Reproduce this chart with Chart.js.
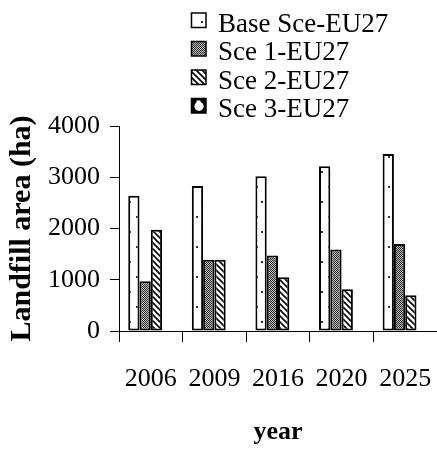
<!DOCTYPE html>
<html lang="en">
<head>
    <meta charset="UTF-8">
    <title>Landfill area</title>
    <script src="https://cdn.jsdelivr.net/npm/chart.js"></script>
    <style>
        html, body { margin: 0; padding: 0; background: #fff; }
        canvas { display: block; }
    </style>
</head>
<body>
    <canvas id="chart" width="437" height="450"></canvas>

    <script>
        // data
        const years = ['2006', '2009', '2016', '2020', '2025'];
        const baseSce = [2640, 2830, 3020, 3215, 3455];
        const sce1 = [970, 1390, 1475, 1590, 1700];
        const sce2 = [1975, 1390, 1050, 815, 700];
        const sce3 = [null, null, null, null, null];
        const seriesNames = ['Base Sce-EU27', 'Sce 1-EU27', 'Sce 2-EU27', 'Sce 3-EU27'];
        const yTicks = [0, 1000, 2000, 3000, 4000];

        // fill patterns like the old print figure
        function makePattern(w, h, draw) {
            const c = document.createElement('canvas');
            c.width = w;
            c.height = h;
            const g = c.getContext('2d');
            draw(g);
            return g.createPattern(c, 'repeat');
        }

        const dots = makePattern(12, 30, g => {
            g.fillStyle = '#fff';
            g.fillRect(0, 0, 12, 30);
            g.fillStyle = '#333';
            g.fillRect(4, 6, 2, 2);
            g.fillRect(9, 21, 2, 2);
        });

        const checker = makePattern(2, 2, g => {
            g.fillStyle = '#b8b8b8';
            g.fillRect(0, 0, 2, 2);
            g.fillStyle = '#333';
            g.fillRect(0, 0, 1, 1);
            g.fillRect(1, 1, 1, 1);
        });

        const stripes = makePattern(6, 6, g => {
            g.fillStyle = '#fff';
            g.fillRect(0, 0, 6, 6);
            g.strokeStyle = '#000';
            g.lineWidth = 1.6;
            g.beginPath();
            g.moveTo(-1, -1); g.lineTo(7, 7);
            g.moveTo(-4, 2); g.lineTo(4, 10);
            g.moveTo(2, -4); g.lineTo(10, 4);
            g.stroke();
        });

        const fills = [dots, checker, stripes, '#000'];

        // legend stacked in one column above the plot
        const columnLegend = {
            id: 'columnLegend',
            afterDraw(chart) {
                const ctx = chart.ctx;
                ctx.save();
                chart.data.datasets.forEach((ds, i) => {
                    const base = 31.5 + i * 28.5;
                    const bx = 191.5, by = base - 18.5, bs = 14.5;
                    if (i === 3) {
                        ctx.fillStyle = '#000';
                        ctx.fillRect(bx, by, bs, bs);
                        ctx.fillStyle = '#fff';
                        ctx.beginPath();
                        ctx.arc(bx + 7.5, by + 7.8, 4.6, 0, Math.PI * 2);
                        ctx.fill();
                        ctx.fillRect(bx + 5, by + 2, 4, 3);
                    } else {
                        ctx.fillStyle = ds.backgroundColor;
                        ctx.fillRect(bx, by, bs, bs);
                    }
                    ctx.strokeStyle = '#000';
                    ctx.lineWidth = 1.5;
                    ctx.strokeRect(bx, by, bs, bs);
                    ctx.fillStyle = '#000';
                    ctx.font = '27px "Liberation Serif"';
                    ctx.textBaseline = 'alphabetic';
                    ctx.textAlign = 'left';
                    ctx.fillText(ds.label, 218, base);
                });
                ctx.restore();
            }
        };

        const serif = '"Liberation Serif", "Times New Roman", serif';

        new Chart(document.getElementById('chart'), {
            type: 'bar',
            data: {
                labels: years,
                datasets: [baseSce, sce1, sce2, sce3].map((vals, i) => ({
                    label: seriesNames[i],
                    data: vals,
                    backgroundColor: fills[i],
                    borderColor: '#000',
                    borderWidth: 2,
                    borderSkipped: false,
                    categoryPercentage: 0.71,
                    barPercentage: 1.0
                }))
            },
            options: {
                responsive: false,
                animation: false,
                layout: { padding: { top: 126, right: 0, bottom: 0, left: 0 } },
                plugins: {
                    legend: { display: false },
                    tooltip: { enabled: false }
                },
                scales: {
                    x: {
                        grid: {
                            drawOnChartArea: false,
                            drawTicks: true,
                            tickLength: 11,
                            color: '#000',
                            offset: true
                        },
                        border: { color: '#000', width: 1 },
                        ticks: {
                            color: '#000',
                            padding: 22,
                            maxRotation: 0,
                            font: { family: serif, size: 26 }
                        },
                        title: {
                            display: true,
                            text: 'year',
                            color: '#000',
                            padding: { top: 0, bottom: 2 },
                            font: { family: serif, size: 26, weight: 'bold' }
                        },
                        afterFit(scale) {
                            scale.height = 119;
                            scale.paddingLeft = 0;
                            scale.paddingRight = 0;
                        }
                    },
                    y: {
                        min: 0,
                        max: 4000,
                        afterBuildTicks(scale) { scale.ticks = yTicks.map(v => ({ value: v })); },
                        grid: {
                            drawOnChartArea: false,
                            drawTicks: true,
                            tickLength: 9,
                            color: '#000'
                        },
                        border: { color: '#000', width: 1 },
                        ticks: {
                            color: '#000',
                            padding: 10,
                            callback: v => String(v),
                            font: { family: serif, size: 26 }
                        },
                        title: {
                            display: true,
                            text: 'Landfill area (ha)',
                            color: '#000',
                            padding: { top: 4, bottom: 0 },
                            font: { family: serif, size: 30, weight: 'bold' }
                        },
                        afterFit(scale) { scale.width = 119; }
                    }
                }
            },
            plugins: [columnLegend]
        });
    </script>
</body>
</html>
